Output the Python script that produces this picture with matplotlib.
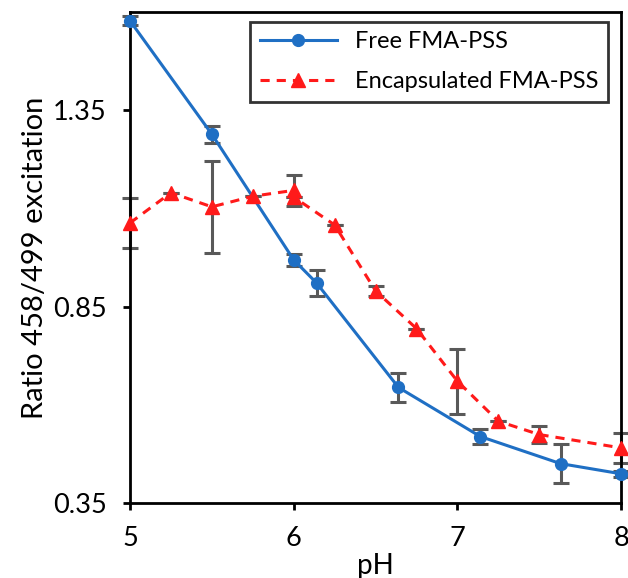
import matplotlib
matplotlib.use("Agg")
import matplotlib.pyplot as plt

# Data
free_ph = [5.0, 5.5, 6.0, 6.14, 6.64, 7.14, 7.63, 8.0]
free_ratio = [1.578, 1.289, 0.969, 0.910, 0.644, 0.519, 0.450, 0.424]
free_err = [0.012, 0.022, 0.015, 0.034, 0.037, 0.020, 0.049, 0.008]

enc_ph = [5.0, 5.25, 5.5, 5.75, 6.0, 6.0, 6.25, 6.5, 6.75, 7.0, 7.25, 7.5, 8.0]
enc_ratio = [1.063, 1.140, 1.104, 1.131, 1.146, 1.129, 1.058, 0.890, 0.794, 0.660, 0.558, 0.524, 0.490]
enc_err = [0.064, 0.0, 0.117, 0.0, 0.039, 0.0, 0.0, 0.012, 0.0, 0.083, 0.0, 0.022, 0.038]

x_ticks = [5, 6, 7, 8]
y_ticks = [0.35, 0.85, 1.35]
y_tick_labels = ["0.35", "0.85", "1.35"]

plt.rcParams['font.family'] = ['Lato', 'DejaVu Sans']

fig = plt.figure(figsize=(6.28, 5.78), dpi=100)
ax = fig.add_axes([0.207, 0.130, 0.782, 0.849])

blue = '#1f6fc4'
red = '#ff1a1a'
grey = '#595959'

ax.errorbar(free_ph, free_ratio, yerr=free_err, fmt='none', ecolor=grey,
            elinewidth=2.2, capsize=5.5, capthick=2.2, zorder=2, clip_on=False)
ax.errorbar(enc_ph, enc_ratio, yerr=enc_err, fmt='none', ecolor=grey,
            elinewidth=2.2, capsize=5.5, capthick=2.2, zorder=2, clip_on=False)

ax.plot(free_ph, free_ratio, '-o', color=blue, lw=2.2, ms=8.5,
        label='Free FMA-PSS', zorder=3, clip_on=False)
ax.plot(enc_ph, enc_ratio, '--^', color=red, lw=2.2, ms=9.5,
        dashes=(3, 2.3), label='Encapsulated FMA-PSS', zorder=3, clip_on=False)

ax.set_xlim(5, 8)
ax.set_ylim(0.35, 1.6)
ax.set_xticks(x_ticks)
ax.set_yticks(y_ticks)
ax.set_yticklabels(y_tick_labels)

for s in ax.spines.values():
    s.set_linewidth(2.0)
    s.set_color('black')
ax.tick_params(direction='out', length=5, width=2.0, labelsize=19.5, pad=12)

ax.set_xlabel('pH', fontsize=20, labelpad=1)
ax.set_ylabel('Ratio 458/499 excitation', fontsize=21, labelpad=3)

leg = ax.legend(loc='upper right', fontsize=17, frameon=True, fancybox=False,
                edgecolor='black', borderpad=0.4, handlelength=3.3,
                handletextpad=0.75, labelspacing=0.8, borderaxespad=0,
                bbox_to_anchor=(0.9735, 0.98))
leg.get_frame().set_linewidth(2.0)

fig.savefig('out.png', dpi=100)
